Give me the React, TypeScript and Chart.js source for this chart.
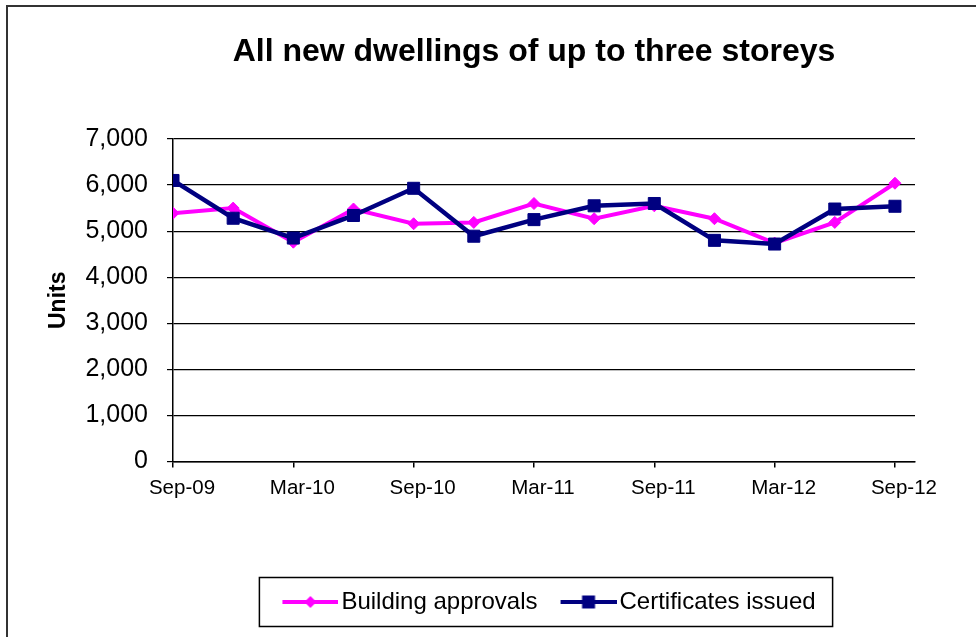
import React, { useEffect, useRef } from "react";
import { Chart, registerables } from "chart.js";

Chart.register(...registerables);

const chartTitle = "All new dwellings of up to three storeys";
const yAxisTitle = "Units";
const quarters = [
  "Sep-09", "Dec-09", "Mar-10", "Jun-10", "Sep-10", "Dec-10", "Mar-11",
  "Jun-11", "Sep-11", "Dec-11", "Mar-12", "Jun-12", "Sep-12",
];
const xTickLabels = ["Sep-09", "Mar-10", "Sep-10", "Mar-11", "Sep-11", "Mar-12", "Sep-12"];
const buildingApprovals = [5390, 5500, 4760, 5480, 5160, 5190, 5600, 5270, 5550, 5270, 4740, 5190, 6040];
const certificatesIssued = [6100, 5280, 4850, 5340, 5930, 4890, 5250, 5550, 5600, 4800, 4720, 5480, 5540];

const FONT = "'Liberation Sans', Arial, sans-serif";
const PINK = "#FF00FF";
const NAVY = "#000080";

function legendImage(color: string, kind: "diamond" | "square"): HTMLCanvasElement {
  const c = document.createElement("canvas");
  c.width = 75;
  c.height = 18;
  const ctx = c.getContext("2d")!;
  ctx.strokeStyle = color;
  ctx.fillStyle = color;
  ctx.lineWidth = 4;
  ctx.beginPath();
  ctx.moveTo(19, 9);
  ctx.lineTo(75, 9);
  ctx.stroke();
  const cx = 47;
  ctx.beginPath();
  if (kind === "diamond") {
    ctx.moveTo(cx - 6, 9);
    ctx.lineTo(cx, 3);
    ctx.lineTo(cx + 6, 9);
    ctx.lineTo(cx, 15);
    ctx.closePath();
  } else {
    ctx.rect(cx - 6.5, 2.5, 13, 13);
  }
  ctx.fill();
  return c;
}

export default function App() {
  const ref = useRef<HTMLCanvasElement | null>(null);

  useEffect(() => {
    if (!ref.current) return;
    const images = [legendImage(PINK, "diamond"), legendImage(NAVY, "square")];

    const legendBoxPlugin = {
      id: "legendBox",
      afterLayout(chart: any) {
        const tb = chart.titleBlock;
        if (tb) tb.left -= 20;
      },
      afterDraw(chart: any) {
        const lg = chart.legend;
        if (!lg || !lg.legendHitBoxes || !lg.legendHitBoxes.length) return;
        const hb = lg.legendHitBoxes;
        const first = hb[0];
        const last = hb[hb.length - 1];
        const left = first.left - 13;
        const right = last.left + last.width + 17;
        const cy = first.top + 12;
        const ctx = chart.ctx;
        ctx.save();
        ctx.strokeStyle = "#000";
        ctx.lineWidth = 1.5;
        ctx.strokeRect(left, cy - 24.5, right - left, 49);
        ctx.restore();
      },
    };

    const chart = new Chart(ref.current, {
      type: "line",
      data: {
        datasets: [
          {
            label: "Building approvals",
            data: buildingApprovals.map((v, i) => ({ x: i * 3, y: v, q: quarters[i] })),
            borderColor: PINK,
            backgroundColor: PINK,
            borderWidth: 4,
            pointStyle: "rectRot",
            pointRadius: 6,
            pointBorderWidth: 1,
            tension: 0,
            order: 1,
          },
          {
            label: "Certificates issued",
            data: certificatesIssued.map((v, i) => ({ x: i * 3, y: v, q: quarters[i] })),
            borderColor: NAVY,
            backgroundColor: NAVY,
            borderWidth: 4.5,
            pointStyle: "rect",
            pointRadius: 8.5,
            pointBorderWidth: 1,
            tension: 0,
            order: 0,
          },
        ] as any,
      },
      options: {
        animation: false,
        responsive: false,
        devicePixelRatio: 1,
        layout: { padding: { left: 41, right: 61, top: 0, bottom: 13 } },
        plugins: {
          tooltip: { enabled: false },
          title: {
            display: true,
            text: chartTitle,
            fullSize: false,
            color: "#000",
            font: { family: FONT, size: 32, weight: "bold" },
            padding: { top: 33, bottom: 67.6 },
          },
          legend: {
            display: true,
            position: "bottom",
            fullSize: false,
            labels: {
              usePointStyle: true,
              pointStyleWidth: 57,
              padding: 13,
              color: "#000",
              font: { family: FONT, size: 24 },
              generateLabels: (chart: any) => {
                const items = Chart.defaults.plugins.legend.labels.generateLabels(chart);
                items.forEach((it: any) => {
                  it.pointStyle = images[it.datasetIndex];
                });
                return items;
              },
              sort: (a: any, b: any) => a.datasetIndex - b.datasetIndex,
            },
          },
        },
        scales: {
          x: {
            type: "linear",
            min: 0,
            max: 37,
            afterFit: (s: any) => {
              s.height = 115.5;
            },
            ticks: {
              stepSize: 6,
              includeBounds: false,
              autoSkip: false,
              maxRotation: 0,
              labelOffset: 9,
              padding: 9,
              color: "#000",
              font: { family: FONT, size: 20.5 },
              callback: (v: any) => xTickLabels[Math.round(Number(v) / 6)] ?? "",
            },
            grid: { drawOnChartArea: false, drawTicks: true, tickLength: 6, color: "#000", lineWidth: 1.5 },
            border: { display: true, color: "#000", width: 1.5 },
          },
          y: {
            min: 0,
            max: 7000,
            afterFit: (s: any) => {
              s.width = 132;
            },
            ticks: {
              stepSize: 1000,
              padding: 19,
              color: "#000",
              font: { family: FONT, size: 25 },
              callback: (v: any) => Number(v).toLocaleString("en-US"),
            },
            grid: { color: "#000", lineWidth: 1.2, drawTicks: true, tickLength: 6 },
            border: { display: true, color: "#000", width: 1.5 },
            title: {
              display: true,
              text: yAxisTitle,
              color: "#000",
              font: { family: FONT, size: 23, weight: "bold" },
              padding: { top: 4, bottom: 4 },
            },
          },
        },
      },
      plugins: [legendBoxPlugin],
    });
    return () => chart.destroy();
  }, []);

  return (
    <div
      style={{
        position: "fixed",
        left: 0,
        top: 0,
        width: 976,
        height: 637,
        overflow: "hidden",
        background: "#fff",
      }}
    >
      <canvas ref={ref} width={976} height={637} style={{ position: "absolute", left: 0, top: 0 }} />
      <div
        style={{
          position: "absolute",
          left: 6,
          top: 5,
          width: 1200,
          height: 900,
          borderLeft: "2px solid #333",
          borderTop: "2px solid #333",
          pointerEvents: "none",
        }}
      />
    </div>
  );
}
